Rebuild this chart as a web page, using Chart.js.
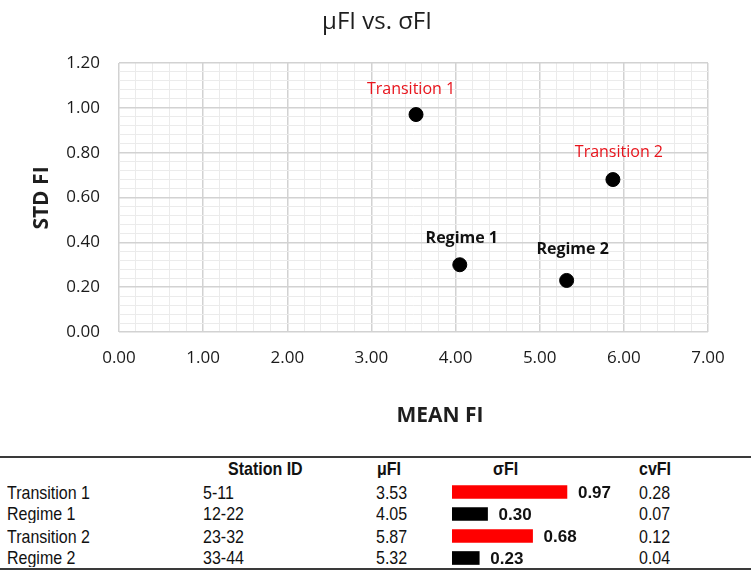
<!DOCTYPE html>
<html>
<head>
<meta charset="utf-8">
<script src="https://cdn.jsdelivr.net/npm/chart.js@4"></script>
<style>
  body{margin:0;background:#fff;}
  #wrap{position:relative;width:751px;height:572px;overflow:hidden;}
  #main{position:absolute;left:0;top:0;}
  #tbl{position:absolute;left:0;top:456px;width:751px;height:110px;border-top:2px solid #3a3a3a;border-bottom:2px solid #3a3a3a;
       font-family:"Liberation Sans",Arial,sans-serif;font-size:16px;color:#111;}
  .c{position:absolute;white-space:nowrap;line-height:20px;transform:scaleY(1.12);}
  .h{font-weight:bold;}
  #bars{position:absolute;left:452px;top:481px;}
</style>
</head>
<body>
<div id="wrap">
  <canvas id="main" width="751" height="440"></canvas>
  <div id="tbl"></div>
  <canvas id="bars" width="180" height="88"></canvas>
</div>
<script>
/* ═══════════════════════════════════
   DATA
═══════════════════════════════════ */
var names = ['Transition 1','Regime 1','Transition 2','Regime 2'];
var stationIds = ['5-11','12-22','23-32','33-44'];
var meanFI = [3.53,4.05,5.87,5.32];
var stdFI = [0.97,0.30,0.68,0.23];
var cvFI = [0.28,0.07,0.12,0.04];
var headers = ['Station ID','μFI','σFI','cvFI'];

// label look per group (transition = red, regime = bold black)
var isTransition = [true,false,true,false];
var labelOffsets = [[-5,-25],[2,-26],[6,-27],[6,-31]];

var FONT = '"Open Sans", sans-serif';

function isMajor(v, step){
  var k = Math.round(v*100), s = Math.round(step*100);
  return k % s === 0;
}

/* ═══════════════════════════════════
   SCATTER
═══════════════════════════════════ */
var decor = {
  id:'decor',
  afterDatasetsDraw:function(chart){
    var c = chart.ctx;
    var meta = chart.getDatasetMeta(0);
    c.save();
    c.textAlign = 'center';
    c.textBaseline = 'middle';
    meta.data.forEach(function(pt,i){
      if(isTransition[i]){ c.font = '16px '+FONT; c.fillStyle = '#e8141c'; }
      else { c.font = 'bold 16px '+FONT; c.fillStyle = '#111'; }
      c.fillText(names[i], pt.x+labelOffsets[i][0], pt.y+labelOffsets[i][1]);
    });
    // title
    c.fillStyle = '#1e1e1e';
    c.font = '24px '+FONT;
    c.fillText('μFI vs. σFI', 377, 22);
    // axis titles
    c.font = 'bold 21px '+FONT;
    c.fillText('MEAN FI', 440, 416);
    c.translate(42, 198);
    c.rotate(-Math.PI/2);
    c.fillText('STD FI', 0, 0);
    c.restore();
  }
};

new Chart(document.getElementById('main'), {
  type:'scatter',
  data:{
    datasets:[{
      data:meanFI.map(function(m,i){return {x:m,y:stdFI[i]};}),
      backgroundColor:'#000',
      borderColor:'#000',
      pointRadius:7,
      pointHoverRadius:7
    }]
  },
  options:{
    responsive:false,
    animation:false,
    events:[],
    layout:{padding:{left:0,right:43,top:63,bottom:0}},
    plugins:{legend:{display:false},tooltip:{enabled:false}},
    scales:{
      x:{
        type:'linear',min:0,max:7,
        afterFit:function(s){s.height = 108;},
        border:{display:false},
        grid:{
          drawTicks:false,
          color:function(ctx){return isMajor(ctx.tick.value,1)?'#d2d2d2':'#ebebeb';},
          lineWidth:function(ctx){return isMajor(ctx.tick.value,1)?1.5:1;}
        },
        ticks:{
          stepSize:0.2,autoSkip:false,maxRotation:0,padding:16,
          color:'#1a1a1a',font:{family:FONT,size:17},
          callback:function(v){return isMajor(v,1)?v.toFixed(2):'';}
        }
      },
      y:{
        type:'linear',min:0,max:1.2,
        afterFit:function(s){s.width = 119;},
        border:{display:false},
        grid:{
          drawTicks:false,
          color:function(ctx){return isMajor(ctx.tick.value,0.2)?'#d2d2d2':'#ebebeb';},
          lineWidth:function(ctx){return isMajor(ctx.tick.value,0.2)?1.5:1;}
        },
        ticks:{
          stepSize:0.04,autoSkip:false,padding:19,
          color:'#1a1a1a',font:{family:FONT,size:17},
          callback:function(v){return isMajor(v,0.2)?v.toFixed(2):'';}
        }
      }
    }
  },
  plugins:[decor]
});

/* ═══════════════════════════════════
   TABLE
═══════════════════════════════════ */
var rowY = [35,56,79,100];   // text centers inside table box
var cols = {name:7,id:203,mu:376,cv:639};
var html = '';
html += '<div class="c h" style="left:228px;top:1px;">'+headers[0]+'</div>';
html += '<div class="c h" style="left:377px;top:1px;">'+headers[1]+'</div>';
html += '<div class="c h" style="left:493px;top:1px;">'+headers[2]+'</div>';
html += '<div class="c h" style="left:639px;top:1px;">'+headers[3]+'</div>';
names.forEach(function(n,i){
  var t = rowY[i]-10;
  html += '<div class="c" style="left:'+cols.name+'px;top:'+t+'px;">'+n+'</div>';
  html += '<div class="c" style="left:'+cols.id+'px;top:'+t+'px;">'+stationIds[i]+'</div>';
  html += '<div class="c" style="left:'+cols.mu+'px;top:'+t+'px;">'+meanFI[i].toFixed(2)+'</div>';
  html += '<div class="c" style="left:'+cols.cv+'px;top:'+t+'px;">'+cvFI[i].toFixed(2)+'</div>';
});
document.getElementById('tbl').innerHTML = html;

/* σFI DATA BARS */
var barValues = {
  id:'barValues',
  afterDatasetsDraw:function(chart){
    var c = chart.ctx;
    var meta = chart.getDatasetMeta(0);
    c.save();
    c.font = 'bold 17px "Liberation Sans", Arial, sans-serif';
    c.fillStyle = '#111';
    c.textBaseline = 'middle';
    meta.data.forEach(function(b,i){
      c.fillText(stdFI[i].toFixed(2), b.x+11, b.y+1);
    });
    c.restore();
  }
};

new Chart(document.getElementById('bars'), {
  type:'bar',
  data:{
    labels:names,
    datasets:[{
      data:stdFI,
      backgroundColor:isTransition.map(function(t){return t?'#ff0000':'#000000';}),
      barThickness:13,
      borderWidth:0
    }]
  },
  options:{
    indexAxis:'y',
    responsive:false,
    animation:false,
    events:[],
    layout:{padding:0},
    plugins:{legend:{display:false},tooltip:{enabled:false}},
    scales:{
      x:{display:false,min:0,max:180/118.5},
      y:{display:false}
    }
  },
  plugins:[barValues]
});
</script>
</body>
</html>
